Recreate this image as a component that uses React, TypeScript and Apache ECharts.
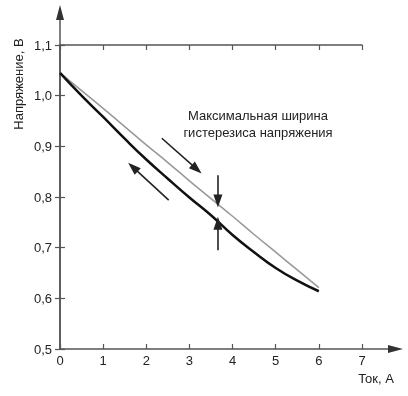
import React, { useEffect, useRef } from 'react';
import * as echarts from 'echarts';

const currentValues = [0, 0.5, 1, 1.5, 2, 2.5, 3, 3.5, 4, 4.5, 5, 5.5, 6];
const chargeVoltage = [1.045, 1.010, 0.975, 0.939, 0.903, 0.868, 0.832, 0.797, 0.762, 0.726, 0.691, 0.656, 0.621];
const dischargeVoltage = [1.045, 1.0, 0.958, 0.915, 0.874, 0.836, 0.799, 0.764, 0.725, 0.691, 0.660, 0.635, 0.614];
const xTicks = [0, 1, 2, 3, 4, 5, 6, 7];
const yTicks = [0.5, 0.6, 0.7, 0.8, 0.9, 1.0, 1.1];
const annotationLines = ['Максимальная ширина', 'гистерезиса напряжения'];
// arrows: [fromX, fromY, toX, toY] in data units
const arrows = [
  [2.36, 0.916, 3.17, 0.855],
  [2.52, 0.794, 1.69, 0.859],
  [3.66, 0.843, 3.66, 0.792],
  [3.66, 0.695, 3.66, 0.748],
];

const FONT = 'Liberation Sans, Arial, sans-serif';
const AX = '#555';
const TXT = '#222';

export default function App() {
  const ref = useRef<HTMLDivElement>(null);
  useEffect(() => {
    if (!ref.current) return;
    const chart = echarts.init(ref.current, undefined, { renderer: 'svg' });
    const fmtY = (v: number) => v.toFixed(1).replace('.', ',');
    const baseX = {
      type: 'value',
      min: xTicks[0],
      max: xTicks[xTicks.length - 1],
      interval: 1,
      splitLine: { show: false },
      axisLine: { show: true, lineStyle: { color: AX, width: 1.5 } },
      axisTick: { show: true, inside: true, length: 5, lineStyle: { color: AX, width: 1.2 } },
    };
    const baseY = {
      type: 'value',
      min: yTicks[0],
      max: yTicks[yTicks.length - 1],
      interval: 0.1,
      splitLine: { show: false },
      axisLine: { show: true, lineStyle: { color: AX, width: 1.5 } },
      axisTick: { show: true, inside: true, length: 5, lineStyle: { color: AX, width: 1.2 } },
    };
    const makeData = (ys: number[]) => currentValues.map((x, i) => [x, ys[i]]);
    chart.setOption({
      animation: false,
      grid: { left: 60, right: 46, top: 45, bottom: 47, outerBoundsMode: 'none' },
      xAxis: [
        {
          ...baseX,
          position: 'bottom',
          axisLabel: { show: true, margin: 5, fontSize: 13, color: TXT, fontFamily: FONT },
        },
        { ...baseX, position: 'top', axisLabel: { show: false } },
      ],
      yAxis: [
        {
          ...baseY,
          position: 'left',
          axisLabel: { show: true, margin: 8, fontSize: 13, color: TXT, fontFamily: FONT, formatter: fmtY },
        },
        { ...baseY, position: 'right', axisLabel: { show: false } },
      ],
      series: [
        {
          type: 'line',
          name: 'charge',
          data: makeData(chargeVoltage),
          smooth: true,
          showSymbol: false,
          lineStyle: { color: '#9a9a9a', width: 1.6 },
          silent: true,
        },
        {
          type: 'line',
          name: 'discharge',
          data: makeData(dischargeVoltage),
          smooth: true,
          showSymbol: false,
          lineStyle: { color: '#111', width: 2.5 },
          silent: true,
          markLine: {
            silent: true,
            animation: false,
            symbolSize: [9, 13],
            label: { show: false },
            lineStyle: { color: '#222', width: 1.6, type: 'solid' },
            data: arrows.map((a) => [
              { coord: [a[0], a[1]], symbol: 'none' },
              { coord: [a[2], a[3]], symbol: 'triangle' },
            ]),
          },
        },
      ],
    });
    const p0 = chart.convertToPixel({ xAxisIndex: 0, yAxisIndex: 0 }, [xTicks[0], yTicks[yTicks.length - 1]]) as number[];
    const p1 = chart.convertToPixel({ xAxisIndex: 0, yAxisIndex: 0 }, [xTicks[xTicks.length - 1], yTicks[0]]) as number[];
    const left = p0[0];
    const top = p0[1];
    const right = p1[0];
    const bottom = p1[1];
    chart.setOption({
      graphic: [
        { type: 'line', shape: { x1: left, y1: top, x2: left, y2: 18 }, style: { stroke: AX, lineWidth: 1.5 } },
        { type: 'polygon', shape: { points: [[left, 5], [left - 4, 20], [left + 4, 20]] }, style: { fill: '#333' } },
        { type: 'line', shape: { x1: right, y1: bottom, x2: 390, y2: bottom }, style: { stroke: AX, lineWidth: 1.5 } },
        { type: 'polygon', shape: { points: [[403, bottom], [388, bottom - 4], [388, bottom + 4]] }, style: { fill: '#333' } },
        {
          type: 'text', x: 18, y: 84, rotation: Math.PI / 2,
          style: { text: 'Напряжение, В', fontSize: 13, fontFamily: FONT, fill: TXT, textAlign: 'center', textVerticalAlign: 'middle' },
        },
        {
          type: 'text', x: 376, y: 378,
          style: { text: 'Ток, А', fontSize: 13, fontFamily: FONT, fill: TXT, textAlign: 'center', textVerticalAlign: 'middle' },
        },
        ...annotationLines.map((t, i) => ({
          type: 'text', x: 258, y: 115 + i * 17,
          style: { text: t, fontSize: 13, fontFamily: FONT, fill: TXT, textAlign: 'center', textVerticalAlign: 'middle' },
        })),
      ],
    });
    return () => chart.dispose();
  }, []);
  return <div ref={ref} style={{ position: 'fixed', left: 0, top: 0, width: 408, height: 396 }} />;
}
